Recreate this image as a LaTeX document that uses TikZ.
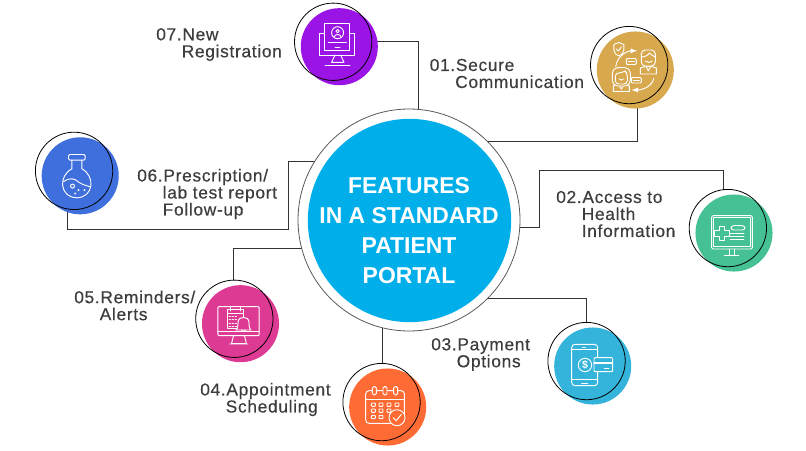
\documentclass[tikz,border=0pt]{standalone}
\usepackage{xcolor}
\usepackage{fontspec}
\setmainfont{Liberation Sans}
\newfontfamily\labelfont[LetterSpace=4,FakeBold=0.45]{Liberation Sans}
\usepackage{tikz}
\usetikzlibrary{backgrounds}
\usetikzlibrary{arrows.meta}
\usetikzlibrary{positioning}
\definecolor{hubblue}{HTML}{00AEEA}
\definecolor{labelgrey}{HTML}{3D3D3D}
\definecolor{disc01}{HTML}{D8A84E}
\definecolor{disc02}{HTML}{45C193}
\definecolor{disc03}{HTML}{35B4DB}
\definecolor{disc04}{HTML}{FF6B35}
\definecolor{disc05}{HTML}{DD3A94}
\definecolor{disc06}{HTML}{3F6FDD}
\definecolor{disc07}{HTML}{9B14E6}
\tikzset{>=latex}
\tikzset{portal-line/.style={line width=0.7pt, draw=black!80}}
\tikzset{portal-disc/.style={circle, inner sep=0, outer sep=0, minimum size=57.8pt}}
\tikzset{portal-ring/.style={draw, circle, inner sep=0, outer sep=0, minimum size=58pt, line width=0.6pt}}
\tikzset{portal-label/.style={anchor=west, inner sep=0, align=left, text=labelgrey, font=\labelfont\fontsize{13}{12.75}\selectfont}}
\tikzset{portal-icon/.style={draw=white, line width=0.7pt, line join=round, line cap=round}}
\tikzset{hub-ring/.style={draw=black!65, circle, inner sep=0, outer sep=0, minimum size=166.5pt, line width=0.6pt}}
\tikzset{hub-disc/.style={circle, inner sep=0, outer sep=0, minimum size=152.5pt, fill=hubblue}}
\tikzset{hub-text/.style={inner sep=0, align=center, text=white, font=\bfseries\fontsize{17.2}{22.4}\selectfont}}

\begin{document}
\begin{tikzpicture}[x=0.75pt, y=-0.75pt]
    \useasboundingbox (0,0) rectangle (806,450);

    \node[hub-disc] (hubdisc) at (409.5,220.5) {};
    \node[hub-ring] (hub) at (409,220) {};
    \node[hub-text] (title) at (409,230.5) {FEATURES\\IN A STANDARD\\PATIENT\\PORTAL};

    \node[portal-disc, fill=disc01] (disc01) at (635.3,70) {};
    \node[portal-disc, fill=disc02] (disc02) at (734,233) {};
    \node[portal-disc, fill=disc03] (disc03) at (592.7,366) {};
    \node[portal-disc, fill=disc04] (disc04) at (387.7,407) {};
    \node[portal-disc, fill=disc05] (disc05) at (240.5,323.7) {};
    \node[portal-disc, fill=disc06] (disc06) at (80.2,175.8) {};
    \node[portal-disc, fill=disc07] (disc07) at (339.3,46.7) {};

    \node[portal-ring] (ring01) at ([xshift=-4.6pt, yshift=3.7pt]disc01.center) {};
    \node[portal-ring] (ring02) at ([xshift=-4.6pt, yshift=3.7pt]disc02.center) {};
    \node[portal-ring] (ring03) at ([xshift=-4.6pt, yshift=3.7pt]disc03.center) {};
    \node[portal-ring] (ring04) at ([xshift=-4.6pt, yshift=3.7pt]disc04.center) {};
    \node[portal-ring] (ring05) at ([xshift=-4.6pt, yshift=3.7pt]disc05.center) {};
    \node[portal-ring] (ring06) at ([xshift=-4.6pt, yshift=3.7pt]disc06.center) {};
    \node[portal-ring] (ring07) at ([xshift=-4.6pt, yshift=3.7pt]disc07.center) {};

    \node[portal-label] (label01) at (429.5,73.5) {01.Secure\\\phantom{01.}Communication};
    \node[portal-label] (label02) at (556,214) {02.Access to\\\phantom{02.}Health\\\phantom{02.}Information};
    \node[portal-label] (label03) at (431,354.5) {03.Payment\\\phantom{03.}Options};
    \node[portal-label] (label04) at (200,399.5) {04.Appointment\\\phantom{04.}Scheduling};
    \node[portal-label] (label05) at (74,305.5) {05.Reminders/\\\phantom{05.}Alerts};
    \node[portal-label] (label06) at (137,194) {06.Prescription/\\\phantom{06.}lab test report\\\phantom{06.}Follow-up};
    \node[portal-label] (label07) at (156,44.5) {07.New\\\phantom{07.}Registration};

    \coordinate (bend02) at (539,170);
    \coordinate (bend06) at (288,229);

    \begin{scope}[on background layer]
        \draw[portal-line] (ring01.-77) |- (hub.45);
        \draw[portal-line] (ring02.97) |- (bend02) |- (hub.-4);
        \draw[portal-line] (ring03.north) |- (hub.-45);
        \draw[portal-line] (hub.-104) -- (hub.-104 |- ring04.north);
        \draw[portal-line] (ring05.92) |- (hub.195);
        \draw[portal-line] (ring06.-100) |- (bend06) |- (hub.148.5);
        \draw[portal-line] (ring07.east) -| (hub.85);
    \end{scope}

    % secure communication
    \begin{scope}[shift={(disc01.center)}, portal-icon]
        \draw (-16.5,-27.5) -- (-21.5,-25.5) -- (-21.5,-20) .. controls (-21.5,-17) and (-19,-15) .. (-16.5,-14) .. controls (-14,-15) and (-11.5,-17) .. (-11.5,-20) -- (-11.5,-25.5) -- cycle;
        \draw (-19,-21) -- (-17,-19) -- (-14,-23);
        \draw[->] (-19.5,-3.3) .. controls (-19,-12) and (-10,-19) .. (1.8,-19.3);
        \draw[->] (18.5,8.3) .. controls (17,16) and (8,20) .. (-3.8,20);
        \draw[rounded corners=0.8pt, fill=disc01] (-9,-11.5) rectangle (1,-5.5);
        \draw (-7,-8.5) -- (-1,-8.5);
        \draw[rounded corners=0.8pt, fill=disc01] (-4,7.5) rectangle (6,13);
        \draw (-2,10) -- (4,10);
        \draw[fill=disc01] (5,4) -- (5,-2) .. controls (9,-4) and (17,-4) .. (21,-2) -- (21,4) -- cycle;
        \draw (11,-3) -- (13,1) -- (15,-3);
        \draw[fill=disc01, rounded corners=3pt] (6,-20) rectangle (20,-4);
        \draw (6,-13) .. controls (10,-13) and (13,-15) .. (14,-17) .. controls (16,-15) and (18,-14) .. (20,-13);
        \draw (10,-9) .. controls (12,-7) and (15,-7) .. (17,-9);
        \draw[fill=disc01] (-22,21.5) -- (-22,16) .. controls (-18,13) and (-10,13) .. (-6,16) -- (-6,21.5) -- cycle;
        \draw (-16,16) -- (-14,19) -- (-12,16);
        \draw[fill=disc01, rounded corners=4pt] (-23,16) -- (-23,-2.3) -- (-5,-2.3) -- (-5,16) -- cycle;
        \draw[fill=disc01, rounded corners=2.5pt] (-20,14) -- (-20,3) .. controls (-16,3) and (-13,2) .. (-11,0) .. controls (-10,1) and (-9,2) .. (-8,3) -- (-8,14) -- cycle;
        \draw (-16,9) .. controls (-15,10.5) and (-13,10.5) .. (-12,9);
    \end{scope}

    % health information
    \begin{scope}[shift={(disc02.center)}, portal-icon]
        \draw[rounded corners=1pt] (-22.3,-17.3) rectangle (18.3,16);
        \draw (-20.3,-15.3) rectangle (16.3,13.7);
        \draw (-9.5,-2.5) -- (-9.5,-7) -- (-15,-7) -- (-15,-2.5) -- (-19.5,-2.5) -- (-19.5,3) -- (-15,3) -- (-15,7.5) -- (-9.5,7.5) -- (-9.5,3) -- (-5,3) -- (-5,-2.5) -- cycle;
        \draw[rounded corners=2pt] (-3,-7.3) rectangle (11,-3);
        \draw (-4,0.3) -- (10,0.3) (-4,3.7) -- (10,3.7) (-4,6.3) -- (10,6.3);
        \draw (-5,16) -- (-5,22) (0.3,16) -- (0.3,22) (-9.7,22.3) -- (5,22.3);
    \end{scope}

    % payment
    \begin{scope}[shift={(disc03.center)}, portal-icon]
        \draw[rounded corners=2.5pt] (-21,-21.7) rectangle (5,19.7);
        \draw (-21,-17) -- (5,-17) (-21,13) -- (5,13);
        \draw (-10,-18.7) -- (-7.5,-18.7) (-11,17) -- (-5,17);
        \draw (-7.7,-1) circle[radius=6.7];
        \node[inner sep=0, text=white, font=\bfseries\fontsize{8}{8}\selectfont] (dollar) at (-7.7,-1) {\$};
        \draw[fill=disc03, rounded corners=0.8pt] (1.3,-8.3) rectangle (20,5.7);
        \draw (1.3,-4) -- (20,-4) (1.3,-2.5) -- (20,-2.5) (11.7,2.3) -- (16.3,2.3);
    \end{scope}

    % appointment calendar
    \begin{scope}[shift={(disc04.center)}, portal-icon]
        \draw[rounded corners=2.5pt] (-22,-16.3) rectangle (16.7,16.3);
        \draw (-22,-7.5) -- (16.7,-7.5);
        \foreach \ringx in {-13.3,-2.7,8}
            \draw[fill=disc04, rounded corners=1.2pt] (\ringx-2,-20.5) rectangle (\ringx+2,-12);
        \foreach \boxx in {-14.3,-6.7,1.3,9.3}
            \draw[rounded corners=0.6pt] (\boxx-2,-4) rectangle (\boxx+2,-0.6);
        \foreach \boxx in {-14.3,-6.7,1.3}
            \draw[rounded corners=0.6pt] (\boxx-2,2) rectangle (\boxx+2,5.4);
        \foreach \boxx in {-14.3,-6.7}
            \draw[rounded corners=0.6pt] (\boxx-2,8.3) rectangle (\boxx+2,11.7);
        \draw[fill=disc04] (9.3,10.7) circle[radius=8];
        \draw (5.5,10.7) -- (8.5,13.7) -- (13.5,7.5);
    \end{scope}

    % reminders
    \begin{scope}[shift={(disc05.center)}, portal-icon]
        \draw[rounded corners=0.8pt] (-22.7,-17) rectangle (18.7,12);
        \draw (-22.7,8) -- (18.7,8);
        \draw (-7,12) -- (-9,20) -- (6,20) -- (4,12) (-11,20.3) -- (7.3,20.3);
        \draw (-12.7,-14.3) rectangle (3,4.7);
        \draw (-12.7,-10) -- (3,-10);
        \draw (-10,-16) -- (-10,-12.7) (0,-16) -- (0,-12.7);
        \foreach \boxy in {-7.5,-4,-0.5,3}
            \foreach \boxx in {-10.7,-7.7,-4.7}
                \draw (\boxx-0.7,\boxy) -- (\boxx+0.7,\boxy);
        \draw[fill=disc05] (-4.5,6.3) .. controls (-2.5,5) and (-2.5,1) .. (-2.5,-1) .. controls (-2.5,-5) and (0,-6.3) .. (3,-6.3) .. controls (6,-6.3) and (8.5,-5) .. (8.5,-1) .. controls (8.5,1) and (8.5,5) .. (10.5,6.3) -- cycle;
        \draw (3,-6.3) -- (3,-7.8);
        \draw (1,6.3) .. controls (1.5,8.3) and (4.5,8.3) .. (5,6.3);
    \end{scope}

    % lab test flask
    \begin{scope}[shift={(disc06.center)}, portal-icon]
        \draw[rounded corners=1pt] (-11.7,-21.3) rectangle (5,-15.7);
        \draw (-8.3,-15.7) -- (-8.3,-7) .. controls (-22,0) and (-21,21.3) .. (-3.3,22) .. controls (14,21.3) and (15,0) .. (1.7,-7) -- (1.7,-15.7);
        \draw (-16.7,6) .. controls (-10,1) and (-5,3) .. (-2,6) .. controls (2,9) and (7,10) .. (10,11);
        \draw (-7.7,10.3) circle[radius=2];
        \draw (-1.7,14.3) circle[radius=0.6] (4.3,14.3) circle[radius=0.6] (-5,17.7) circle[radius=0.6];
    \end{scope}

    % new registration
    \begin{scope}[shift={(disc07.center)}, portal-icon]
        \draw (-15,-13) -- (-20,-13) -- (-20,8.3) -- (15,8.3) -- (15,-13) -- (10,-13);
        \draw (-15,-23.3) rectangle (10,3.3);
        \draw (-4.3,8.3) -- (-7.7,15.7) -- (4.7,15.7) -- (1.3,8.3);
        \draw (-14.3,18.3) -- (10.7,18.3);
        \draw (-1.7,-14) circle[radius=6];
        \draw (-1.7,-15.5) circle[radius=1.7];
        \draw (-5,-10) .. controls (-4,-13) and (1,-13) .. (1.6,-10);
        \draw (-11,-4.3) -- (7,-4.3);
        \draw (-4.3,1) -- (0.7,1);
    \end{scope}
\end{tikzpicture}
\end{document}
